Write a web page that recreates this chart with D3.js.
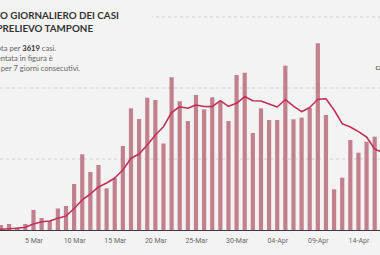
<!DOCTYPE html>
<html><head><meta charset="utf-8">
<script src="https://cdn.jsdelivr.net/npm/d3@7"></script>
<style>html,body{margin:0;padding:0;background:#f3f3f3;overflow:hidden}</style>
</head><body><svg id="chart" width="380" height="255"></svg>
<script>
// ---- data ----
const days = ["2020-02-29","2020-03-01","2020-03-02","2020-03-03","2020-03-04","2020-03-05","2020-03-06","2020-03-07","2020-03-08","2020-03-09","2020-03-10",
"2020-03-11","2020-03-12","2020-03-13","2020-03-14","2020-03-15","2020-03-16","2020-03-17","2020-03-18","2020-03-19","2020-03-20",
"2020-03-21","2020-03-22","2020-03-23","2020-03-24","2020-03-25","2020-03-26","2020-03-27","2020-03-28","2020-03-29","2020-03-30","2020-03-31",
"2020-04-01","2020-04-02","2020-04-03","2020-04-04","2020-04-05","2020-04-06","2020-04-07","2020-04-08","2020-04-09","2020-04-10",
"2020-04-11","2020-04-12","2020-04-13","2020-04-14","2020-04-15","2020-04-16","2020-04-17"];
const cases = [40,70,85,35,85,282,169,127,303,338,648,
1066,817,915,587,728,1183,1714,1563,1863,1831,
1218,2151,1813,1535,1901,1700,1869,1817,1535,2183,2215,
1366,1714,1549,1549,2314,1559,1582,1718,2630,1620,
573,737,1268,1089,1244,1314,1100];
const avg7 = [8,11,17,24,38,85,117,127,165,197,303,
423,507,606,662,732,845,1010,1070,1197,1338,
1455,1655,1737,1714,1761,1739,1737,1821,1742,1785,1880,
1821,1817,1775,1732,1838,1746,1666,1725,1842,1849,
1690,1497,1451,1385,1310,1141,1092];
const tickDays = ["2020-03-05","2020-03-10","2020-03-15","2020-03-20","2020-03-25","2020-03-30","2020-04-04","2020-04-09","2020-04-14"];
const tickLabels = ["5 Mar","10 Mar","15 Mar","20 Mar","25-Mar","30-Mar","04-Apr","09-Apr","14-Apr"];
const gridValues = [1000,2000,3000];
const titleLines = ["ANDAMENTO GIORNALIERO DEI CASI","PER DATA PRELIEVO TAMPONE"];
const noteLines = [
  [["La data del prelievo non è nota per ",false],["3619",true],[" casi.",false]],
  [["La curva rappresentata in figura è",false]],
  [["la media mobile calcolata per 7 giorni consecutivi.",false]]
];

// ---- chart ----
const W = 380, H = 255;
const svg = d3.select("#chart");
const parse = d3.utcParse("%Y-%m-%d");
const data = days.map((d,i)=>({date:parse(d), v:cases[i], m:avg7[i]}));

const x = d3.scaleUtc().domain([parse("2020-03-01"), parse("2020-04-16")]).range([1, 374.7]);
const y = d3.scaleLinear().domain([0,3000]).range([230, 17]);

svg.append("rect").attr("width",W).attr("height",H).attr("fill","#f3f3f3");

// grid
svg.append("g").selectAll("line").data(gridValues).join("line")
  .attr("x1",0).attr("x2",W).attr("y1",d=>y(d)).attr("y2",d=>y(d))
  .attr("stroke","#c8c8c8").attr("stroke-width",0.8).attr("stroke-dasharray","3,3");

// bars
const bw = 4.2;
svg.append("g").selectAll("rect").data(data).join("rect")
  .attr("x",d=>x(d.date)-bw/2).attr("width",bw)
  .attr("y",d=>y(d.v)).attr("height",d=>y(0)-y(d.v))
  .attr("fill","#c2808d");

// moving average line
svg.append("path").datum(data)
  .attr("d", d3.line().x(d=>x(d.date)).y(d=>y(d.m)))
  .attr("fill","none").attr("stroke","#c0305a").attr("stroke-width",1.6)
  .attr("stroke-linejoin","round");

// x axis
const xAxis = d3.axisBottom(x).tickValues(tickDays.map(parse))
  .tickFormat((d,i)=>tickLabels[i]).tickSize(0).tickPadding(8);
const ax = svg.append("g").attr("transform",`translate(0,${y(0)})`).call(xAxis);
ax.select(".domain").remove();
ax.selectAll("text").attr("fill","#6a6a6a").attr("font-size","7px")
  .attr("font-family","Roboto, 'Open Sans', sans-serif");
svg.append("line").attr("x1",0).attr("x2",W).attr("y1",y(0)+0.5).attr("y2",y(0)+0.5)
  .attr("stroke","#3a3a3a").attr("stroke-width",1);

// title block (cropped on the left in the reference)
svg.append("rect").attr("x",0).attr("y",0).attr("width",152).attr("height",78).attr("fill","#f3f3f3");

function cutText(parts, visibleFrom, x0, yb, size, weight, color){
  const t = svg.append("text").attr("y",yb).attr("font-size",size+"px")
    .attr("font-family","Lato, 'Open Sans', sans-serif").attr("fill",color)
    .attr("font-weight",weight);
  parts.forEach(([s,b])=>{
    t.append("tspan").text(s).attr("font-weight", b ? 700 : null).attr("fill", b ? "#333" : null);
  });
  const full = parts.map(p=>p[0]).join("");
  const n = full.indexOf(visibleFrom);
  const w = n>0 ? t.node().getSubStringLength(0,n) : 0;
  t.attr("x", x0 - w);
}
cutText([[titleLines[0],false]], "O GIORNALIERO", 0, 18.7, 9.8, 700, "#333");
cutText([[titleLines[1],false]], "RELIEVO", 2.5, 31.7, 9.8, 700, "#333");
cutText(noteLines[0], "ta per", 1, 50.7, 7.6, 400, "#666");
cutText(noteLines[1], "ntata in", 0.7, 60.5, 7.6, 400, "#666");
cutText(noteLines[2], "per 7", 0.7, 70.5, 7.6, 400, "#666");

// right-side label (cropped)
svg.append("text").attr("x",375.5).attr("y",70).attr("font-size","7px")
  .attr("font-family","Lato, sans-serif").attr("font-weight",700).attr("fill","#555")
  .text("casi");
</script>
</body></html>
